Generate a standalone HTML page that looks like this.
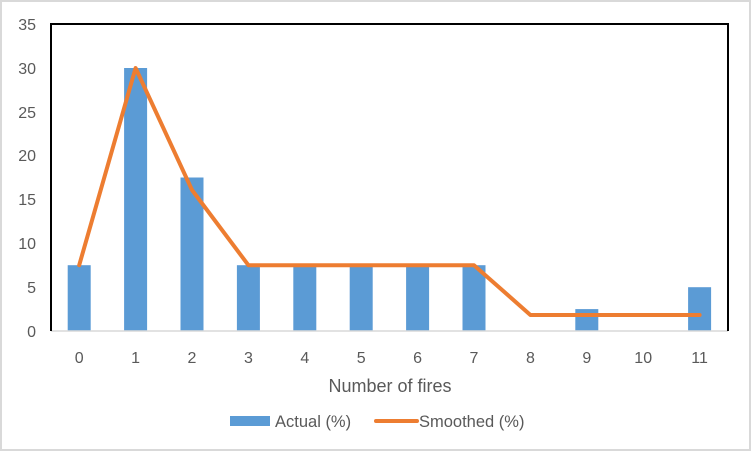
<!DOCTYPE html>
<html><head><style>
html,body{margin:0;padding:0;background:#fff;}
svg{display:block;}
text{font-family:"Liberation Sans",sans-serif;fill:#595959;}
</style></head><body>
<svg width="752" height="452" viewBox="0 0 752 452">
<rect x="1" y="1" width="749" height="449" fill="#fff" stroke="#d9d9d9" stroke-width="2"/>
<g fill="#5b9bd5">
<rect x="67.7" y="265.2" width="23" height="65.8"/>
<rect x="124.1" y="68" width="23" height="263"/>
<rect x="180.5" y="177.5" width="23" height="153.5"/>
<rect x="236.9" y="265.2" width="23" height="65.8"/>
<rect x="293.3" y="265.2" width="23" height="65.8"/>
<rect x="349.7" y="265.2" width="23" height="65.8"/>
<rect x="406.1" y="265.2" width="23" height="65.8"/>
<rect x="462.5" y="265.2" width="23" height="65.8"/>
<rect x="575.3" y="309.1" width="23" height="21.9"/>
<rect x="688.1" y="287.2" width="23" height="43.8"/>
</g>
<line x1="51" y1="331" x2="728" y2="331" stroke="#d9d9d9" stroke-width="1.5"/>
<path d="M51,331 V24 H728 V331" fill="none" stroke="#000" stroke-width="2"/>
<polyline fill="none" stroke="#ed7d31" stroke-width="4" stroke-linejoin="round" stroke-linecap="round"
points="79.2,265.2 135.6,68 192,190 248.4,265.2 304.8,265.2 361.2,265.2 417.6,265.2 474,265.2 530.4,315 586.8,315 643.2,315 699.6,315"/>
<g font-size="16" text-anchor="end">
<text x="36" y="337">0</text><text x="36" y="293">5</text><text x="36" y="249">10</text>
<text x="36" y="205">15</text><text x="36" y="161">20</text><text x="36" y="118">25</text>
<text x="36" y="74">30</text><text x="36" y="30">35</text>
</g>
<g font-size="16" text-anchor="middle">
<text x="79.2" y="363">0</text><text x="135.6" y="363">1</text><text x="192" y="363">2</text>
<text x="248.4" y="363">3</text><text x="304.8" y="363">4</text><text x="361.2" y="363">5</text>
<text x="417.6" y="363">6</text><text x="474" y="363">7</text><text x="530.4" y="363">8</text>
<text x="586.8" y="363">9</text><text x="643.2" y="363">10</text><text x="699.6" y="363">11</text>
<text x="390" y="392" font-size="18">Number of fires</text>
</g>
<rect x="230" y="416" width="40" height="10" fill="#5b9bd5"/>
<text x="275" y="427" font-size="16.5">Actual (%)</text>
<line x1="376" y1="421" x2="417" y2="421" stroke="#ed7d31" stroke-width="4" stroke-linecap="round"/>
<text x="419" y="427" font-size="16.5">Smoothed (%)</text>
</svg>
</body></html>
